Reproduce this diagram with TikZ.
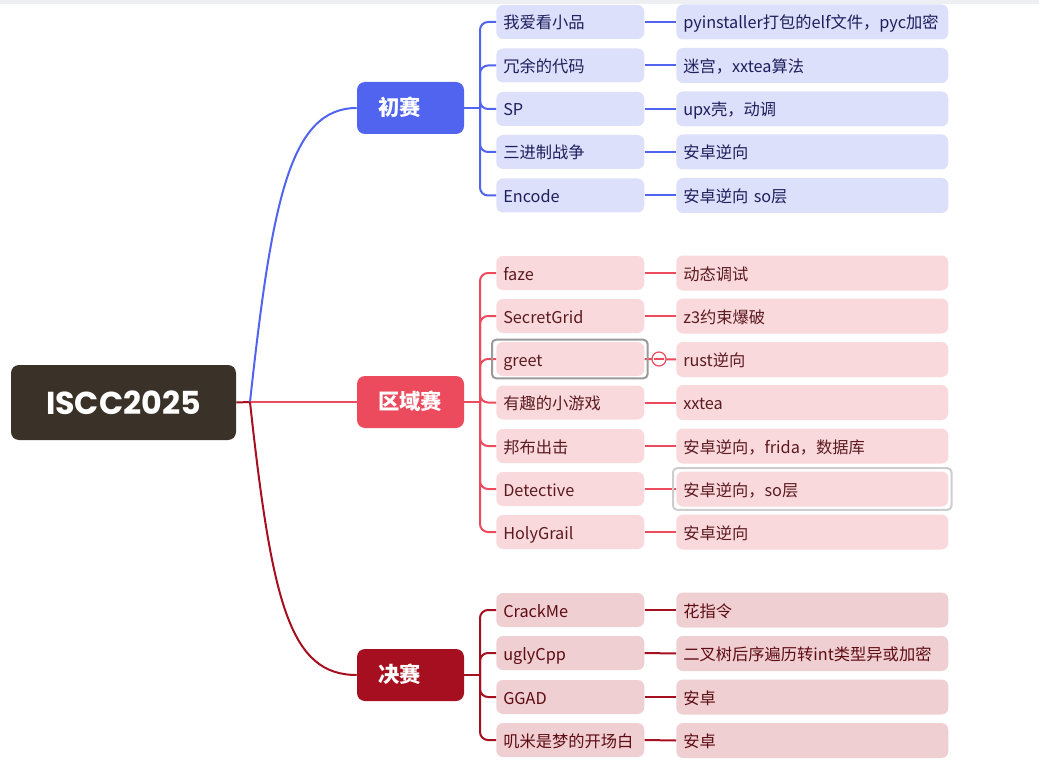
\documentclass[tikz,border=0pt]{standalone}
\usepackage{fontspec}
\setmainfont{Noto Sans CJK SC}
\newfontfamily\poppins{Poppins}
\definecolor{topgrey}{HTML}{EDEFF2}
\definecolor{rootc}{HTML}{3A3229}
\definecolor{cblue}{HTML}{5064EF}
\definecolor{cbluel}{HTML}{DDE0FA}
\definecolor{cbluet}{HTML}{1C1F5C}
\definecolor{cred}{HTML}{EC4A5D}
\definecolor{credl}{HTML}{FAD9DC}
\definecolor{credt}{HTML}{5B1A1F}
\definecolor{cdark}{HTML}{A50F1F}
\definecolor{cdarkl}{HTML}{EFCFD2}
\definecolor{cdarkt}{HTML}{5E0B12}
\definecolor{selgrey}{HTML}{9A9A9A}
\definecolor{selgreyl}{HTML}{CDCDCD}
\begin{document}
\begin{tikzpicture}[x=0.75pt,y=-0.75pt,
  base/.style={rounded corners=5pt, inner ysep=0pt, inner xsep=5.25pt, anchor=west, align=left, minimum height=25.5pt, text height=11.5pt, text depth=1pt, font=\fontsize{12.2}{14}\selectfont},
  lvtwo/.style={base, text width=100.5pt},
  lvthree/.style={base, text width=193.5pt, minimum height=26.25pt},
  bl/.style={fill=cbluel, text=cbluet},
  rd/.style={fill=credl, text=credt},
  dk/.style={fill=cdarkl, text=cdarkt},
  lvone/.style={rounded corners=6pt, text width=48.75pt, align=left, minimum height=39pt, inner ysep=0pt, inner xsep=15.75pt, text height=12.5pt, text depth=1pt, text=white, font=\fontsize{16}{19}\selectfont\bfseries},
  conn/.style={line width=1.5pt},
  brk/.style={conn, rounded corners=6pt}
]
\useasboundingbox (0,0) rectangle (1039,770);
\fill[topgrey] (0,0) rectangle (1039,4);

% root
\node[fill=rootc, rounded corners=6pt, minimum width=168.75pt, minimum height=56.25pt, inner sep=0pt, text=white, font=\poppins\bfseries\fontsize{23.8}{28}\selectfont] (root) at (123.5,402.5) {ISCC2025};

% level 1
\node[lvone, fill=cblue] (p1) at (410.5,108) {初赛};
\node[lvone, fill=cred] (p2) at (410.5,402) {区域赛};
\node[lvone, fill=cdark] (p3) at (410.5,675) {决赛};

\coordinate (j0) at (250,402);
\draw[conn, cdark] (root.east) -- (j0);
\draw[conn, cblue] (j0) .. controls (272,200) and (290,108) .. (p1.west);
\draw[conn, cred] (j0) -- (p2.west);
\draw[conn, cdark] (j0) .. controls (272,604) and (290,675) .. (p3.west);

% group 1
\node[lvtwo, bl] (a1) at (496,22) {我爱看小品};
\node[lvtwo, bl] (a2) at (496,65.5) {冗余的代码};
\node[lvtwo, bl] (a3) at (496,109) {SP};
\node[lvtwo, bl] (a4) at (496,152) {三进制战争};
\node[lvtwo, bl] (a5) at (496,195.5) {Encode};
\node[lvthree, bl] (b1) at (676,22) {pyinstaller打包的elf文件，pyc加密};
\node[lvthree, bl] (b2) at (676,65.5) {迷宫，xxtea算法};
\node[lvthree, bl] (b3) at (676,109) {upx壳，动调};
\node[lvthree, bl] (b4) at (676,152) {安卓逆向};
\node[lvthree, bl] (b5) at (676,195.5) {安卓逆向 so层};
\coordinate (j1) at (480,108);
\draw[conn, cblue] (p1.east) -- (j1);
\foreach \i in {1,...,5} {
  \draw[brk, cblue] (j1) |- (a\i.west);
  \draw[conn, cblue] (a\i.east) -- (b\i.west);
}

% group 2
\node[lvtwo, rd] (c1) at (496,273) {faze};
\node[lvtwo, rd] (c2) at (496,316) {SecretGrid};
\node[lvtwo, rd] (c3) at (496,359) {greet};
\node[lvtwo, rd] (c4) at (496,402.5) {有趣的小游戏};
\node[lvtwo, rd] (c5) at (496,446) {邦布出击};
\node[lvtwo, rd] (c6) at (496,489) {Detective};
\node[lvtwo, rd] (c7) at (496,532) {HolyGrail};
\node[lvthree, rd] (d1) at (676,273) {动态调试};
\node[lvthree, rd] (d2) at (676,316) {z3约束爆破};
\node[lvthree, rd] (d3) at (676,359.5) {rust逆向};
\node[lvthree, rd] (d4) at (676,402.5) {xxtea};
\node[lvthree, rd] (d5) at (676,446) {安卓逆向，frida，数据库};
\node[lvthree, rd] (d6) at (676,489) {安卓逆向，so层};
\node[lvthree, rd] (d7) at (676,532) {安卓逆向};
\coordinate (j2) at (480,402);
\draw[conn, cred] (p2.east) -- (j2);
\foreach \i in {1,...,7} {
  \draw[brk, cred] (j2) |- (c\i.west);
  \draw[conn, cred] (c\i.east) -- (d\i.west);
}
\draw[line width=1.5pt, selgrey, rounded corners=3pt] ([xshift=-3pt,yshift=1.5pt]c3.north west) rectangle ([xshift=2.25pt,yshift=-1.5pt]c3.south east);
\draw[line width=1.5pt, selgreyl, rounded corners=3pt] ([xshift=-2.25pt,yshift=2.25pt]d6.north west) rectangle ([xshift=2.25pt,yshift=-2.25pt]d6.south east);
\node[circle, draw=cred, fill=white, line width=0.9pt, minimum size=10.5pt, inner sep=0pt] (cc) at (659,359) {};
\draw[cred, line width=1pt] ([xshift=-3.4pt]cc.center) -- ([xshift=3.4pt]cc.center);

% group 3
\node[lvtwo, dk] (e1) at (496,610) {CrackMe};
\node[lvtwo, dk] (e2) at (496,653) {uglyCpp};
\node[lvtwo, dk] (e3) at (496,697) {GGAD};
\node[lvtwo, dk] (e4) at (496,740) {叽米是梦的开场白};
\node[lvthree, dk] (f1) at (676,610) {花指令};
\node[lvthree, dk] (f2) at (676,653.5) {二叉树后序遍历转int类型异或加密};
\node[lvthree, dk] (f3) at (676,697) {安卓};
\node[lvthree, dk] (f4) at (676,740.5) {安卓};
\coordinate (j3) at (480,675);
\draw[conn, cdark] (p3.east) -- (j3);
\foreach \i in {1,...,4} {
  \draw[brk, cdark] (j3) |- (e\i.west);
  \draw[conn, cdark] (e\i.east) -- (f\i.west);
}
\end{tikzpicture}
\end{document}
